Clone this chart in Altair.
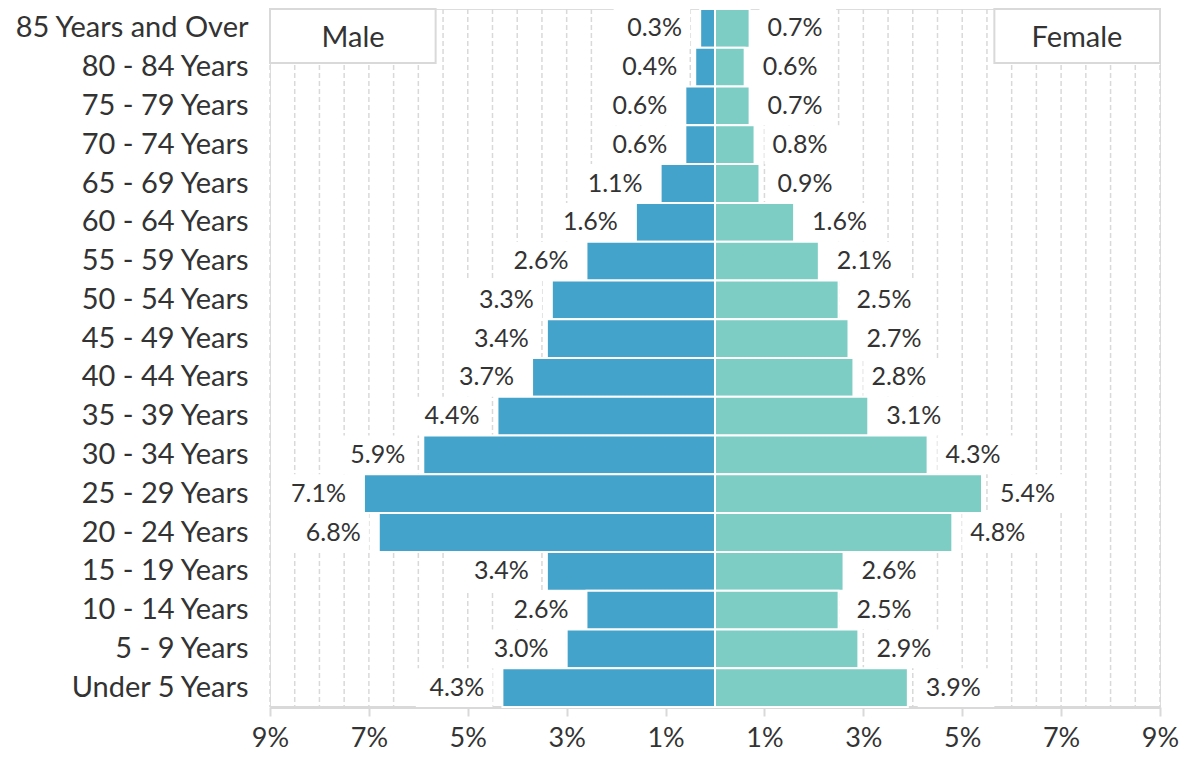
import altair as alt
import pandas as pd

age_groups = [
    "85 Years and Over", "80 - 84 Years", "75 - 79 Years", "70 - 74 Years",
    "65 - 69 Years", "60 - 64 Years", "55 - 59 Years", "50 - 54 Years",
    "45 - 49 Years", "40 - 44 Years", "35 - 39 Years", "30 - 34 Years",
    "25 - 29 Years", "20 - 24 Years", "15 - 19 Years", "10 - 14 Years",
    "5 - 9 Years", "Under 5 Years",
]
male = [0.3, 0.4, 0.6, 0.6, 1.1, 1.6, 2.6, 3.3, 3.4, 3.7, 4.4, 5.9, 7.1, 6.8, 3.4, 2.6, 3.0, 4.3]
female = [0.7, 0.6, 0.7, 0.8, 0.9, 1.6, 2.1, 2.5, 2.7, 2.8, 3.1, 4.3, 5.4, 4.8, 2.6, 2.5, 2.9, 3.9]
sexes = ["Male", "Female"]
tick_values = [-9, -7, -5, -3, -1, 1, 3, 5, 7, 9]
grid_values = [v * 0.5 for v in range(-18, 19)]

MALE_COLOR = "#43a3cb"
FEMALE_COLOR = "#7dcdc4"
TEXT = "#333333"
LINE = "#d9d9d9"
FONT = "Lato"

rows = []
for g, m, f in zip(age_groups, male, female):
    rows.append({"age": g, "sex": "Male", "value": m, "sign": -1})
    rows.append({"age": g, "sex": "Female", "value": f, "sign": 1})
df = pd.DataFrame(rows)
df["signed"] = df["sign"] * df["value"]
df["label"] = df["value"].map(lambda v: f"{v:.1f}%")
df["box0"] = df["sign"] * (df["value"] + 0.2)
df["box1"] = df["sign"] * (df["value"] + 1.75)

grid_df = pd.DataFrame({"g": grid_values})

xscale = alt.Scale(domain=[-9, 9], nice=False, zero=False)
x_axis = alt.Axis(
    values=tick_values,
    labelExpr="abs(datum.value) + '%'",
    title=None,
    grid=False,
    ticks=True,
    tickColor=LINE,
    tickSize=9,
    tickWidth=2,
    domain=True,
    domainColor=LINE,
    domainWidth=3,
    labelFontSize=27,
    labelColor=TEXT,
    labelFont=FONT,
    labelPadding=9,
    labelFlush=False,
    labelOverlap=False,
)
y_enc = alt.Y(
    "age:N",
    sort=age_groups,
    scale=alt.Scale(paddingInner=0, paddingOuter=0),
    axis=alt.Axis(
        title=None,
        ticks=False,
        domain=False,
        grid=False,
        labelFontSize=29,
        labelColor=TEXT,
        labelFont=FONT,
        labelPadding=22,
        labelLimit=400,
        minExtent=262,
        maxExtent=262,
    ),
)

def X(field):
    return alt.X(field, scale=xscale, axis=x_axis)

grid = alt.Chart(grid_df).mark_rule(
    color=LINE, strokeWidth=1.5, strokeDash=[5, 3]
).encode(x=X("g:Q"))

boxes = alt.Chart(df).mark_bar(color="white").encode(
    x=X("box0:Q"), x2="box1:Q", y=y_enc
)

bars = alt.Chart(df).mark_bar(stroke="white", strokeWidth=2).encode(
    x=X("signed:Q"),
    x2=alt.datum(0),
    y=y_enc,
    color=alt.Color(
        "sex:N",
        scale=alt.Scale(domain=sexes, range=[MALE_COLOR, FEMALE_COLOR]),
        legend=None,
    ),
)

labels_m = alt.Chart(df).transform_filter("datum.sex == 'Male'").mark_text(
    align="right", baseline="middle", dx=-18, fontSize=25, font=FONT, color=TEXT
).encode(x=X("signed:Q"), y=y_enc, text="label:N")

labels_f = alt.Chart(df).transform_filter("datum.sex == 'Female'").mark_text(
    align="left", baseline="middle", dx=18, fontSize=25, font=FONT, color=TEXT
).encode(x=X("signed:Q"), y=y_enc, text="label:N")

one_m = pd.DataFrame({"sex": ["Male"]})
one_f = pd.DataFrame({"sex": ["Female"]})

leg_box_m = alt.Chart(one_m).mark_rect(fill="white", stroke=LINE, strokeWidth=2).encode(
    x=alt.datum(-9), x2=alt.datum(-5.65), y=alt.value(0), y2=alt.value(54)
)
leg_box_f = alt.Chart(one_f).mark_rect(fill="white", stroke=LINE, strokeWidth=2).encode(
    x=alt.datum(5.65), x2=alt.datum(9), y=alt.value(0), y2=alt.value(54)
)
leg_txt_m = alt.Chart(one_m).mark_text(
    fontSize=29, font=FONT, color=TEXT, baseline="middle", align="center"
).encode(x=alt.datum(-7.32), y=alt.value(29), text="sex:N")
leg_txt_f = alt.Chart(one_f).mark_text(
    fontSize=29, font=FONT, color=TEXT, baseline="middle", align="center"
).encode(x=alt.datum(7.32), y=alt.value(29), text="sex:N")

chart = alt.layer(
    grid, boxes, bars, labels_m, labels_f, leg_box_m, leg_box_f, leg_txt_m, leg_txt_f
).properties(
    width=890, height=698, padding={"left": 0, "top": 0, "right": 0, "bottom": 0}
).configure_view(
    stroke=LINE, strokeWidth=2
).configure(font=FONT)

chart.save("out.html", embed_options={"renderer": "svg", "actions": False})
